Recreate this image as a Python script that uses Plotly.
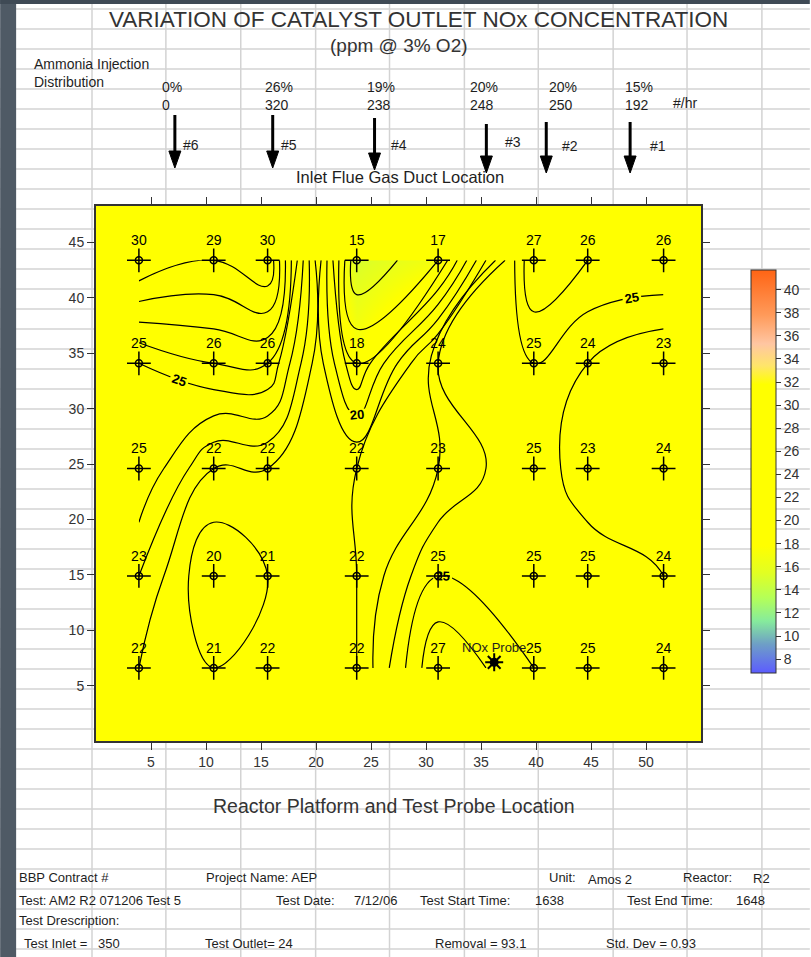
import plotly.graph_objects as go

# ---------------- survey data ----------------
# traverse grid positions (ft) across the reactor platform
grid_x = [3.9, 10.7, 15.6, 23.7, 31.1, 39.8, 44.7, 51.6]
grid_y = [6.6, 14.9, 24.6, 34.1, 43.4]

# catalyst outlet NOx, ppm @ 3% O2 (rows follow grid_y, bottom to top)
nox_ppm = [
    [22, 21, 22, 22, 27, 25, 25, 24],
    [23, 20, 21, 22, 25, 25, 25, 24],
    [25, 22, 22, 22, 23, 25, 23, 24],
    [25, 26, 26, 18, 24, 25, 24, 23],
    [30, 29, 30, 15, 17, 27, 26, 26],
]

# fixed NOx analyser probe
probe_x = [36.2]
probe_y = [7.1]
probe_name = ["NOx Probe"]

# ammonia injection lances
lance_names = ["#6", "#5", "#4", "#3", "#2", "#1"]
lance_pct = ["0%", "26%", "19%", "20%", "20%", "15%"]
lance_rate = ["0", "320", "238", "248", "250", "192"]

x_tick_vals = [5, 10, 15, 20, 25, 30, 35, 40, 45, 50]
y_tick_vals = [5, 10, 15, 20, 25, 30, 35, 40, 45]
cbar_tick_vals = list(range(8, 41, 2))

# colour ramp (ppm -> colour)
cbar_stops = [
    (6.8, "#5c5cff"), (9.3, "#6e9fc6"), (11.3, "#86eb9c"), (13.3, "#b4ff58"),
    (15.5, "#e2ff22"), (17.8, "#ffff00"), (31.8, "#ffff00"), (33.4, "#ffe56a"),
    (35.3, "#ffc6a2"), (37.8, "#ff9a5a"), (41.7, "#ff6414"),
]
Z_MIN, Z_MAX = 6.8, 41.7

# ---------------- page geometry (pixels) ----------------
W, H = 811, 957
L, T, PW, PH = 96, 206, 606, 535
FONT = "Liberation Sans, Arial, sans-serif"
INK = "#1e1e1e"


def px(x):
    return (x - L) / PW


def py(y):
    return (T + PH - y) / PH


colorscale = [[(v - Z_MIN) / (Z_MAX - Z_MIN), c] for v, c in cbar_stops]

fig = go.Figure()

# colour-shaded surface
fig.add_trace(go.Contour(
    x=grid_x, y=grid_y, z=nox_ppm,
    colorscale=colorscale, zmin=Z_MIN, zmax=Z_MAX, hoverinfo="skip",
    contours=dict(coloring="heatmap", start=14, end=30, size=1),
    line=dict(width=0),
    colorbar=dict(
        x=px(751), xanchor="left", xpad=0,
        y=py(270), yanchor="top", ypad=0,
        lenmode="pixels", len=403, thicknessmode="pixels", thickness=25,
        outlinecolor="#333333", outlinewidth=1,
        tickmode="array", tickvals=cbar_tick_vals,
        ticks="outside", ticklen=5, tickcolor="#333333",
        tickfont=dict(family=FONT, size=14, color="#333333"),
    ),
))

# contour lines, 1 ppm apart; 20 and 25 carry labels
for start, end, size, labels in [(14, 19, 1, False), (21, 24, 1, False),
                                  (26, 30, 1, False), (20, 25, 5, True)]:
    fig.add_trace(go.Contour(
        x=grid_x, y=grid_y, z=nox_ppm, showscale=False, hoverinfo="skip",
        contours=dict(start=start, end=end, size=size, coloring="none",
                      showlabels=labels,
                      labelfont=dict(family=FONT, size=13, color="black", weight="bold")),
        line=dict(color="black", width=1.2, smoothing=1.3),
    ))

# measurement points with their readings
pts_x, pts_y, pts_t = [], [], []
for j, yv in enumerate(grid_y):
    for i, xv in enumerate(grid_x):
        pts_x.append(xv)
        pts_y.append(yv)
        pts_t.append(str(nox_ppm[j][i]))

fig.add_trace(go.Scatter(
    x=pts_x, y=pts_y, text=pts_t, mode="markers+text", textposition="top center",
    textfont=dict(family=FONT, size=14, color="black"),
    marker=dict(symbol="cross-thin-open", size=17, color="black",
                line=dict(color="black", width=1.5)),
    hoverinfo="skip", showlegend=False,
))
fig.add_trace(go.Scatter(
    x=pts_x, y=pts_y, mode="markers",
    marker=dict(symbol="circle-open", size=7, color="black",
                line=dict(color="black", width=1.5)),
    hoverinfo="skip", showlegend=False,
))

# NOx probe
fig.add_trace(go.Scatter(
    x=probe_x, y=probe_y, mode="markers",
    marker=dict(symbol="asterisk-open", size=15, color="black",
                line=dict(color="black", width=2)),
    hoverinfo="skip", showlegend=False,
))
fig.add_trace(go.Scatter(
    x=probe_x, y=probe_y, text=probe_name, mode="markers+text",
    textposition="top center", textfont=dict(family=FONT, size=13, color=INK),
    marker=dict(symbol="circle", size=9, color="black"),
    hoverinfo="skip", showlegend=False,
))

# ---------------- worksheet background ----------------
shapes = []
for gx in [92, 166, 241, 316, 390, 465, 539, 614, 688, 763]:
    shapes.append(dict(type="line", xref="paper", yref="paper", layer="below",
                       x0=px(gx), x1=px(gx), y0=py(0), y1=py(H),
                       line=dict(color="#d3d3d3", width=1.5)))
for gy in range(9, H, 20):
    shapes.append(dict(type="line", xref="paper", yref="paper", layer="below",
                       x0=px(0), x1=px(W), y0=py(gy), y1=py(gy),
                       line=dict(color="#d3d3d3", width=1.5)))
# plot area fill
shapes.append(dict(type="rect", xref="paper", yref="paper", layer="below",
                   x0=0, x1=1, y0=0, y1=1, fillcolor="#ffff00", line=dict(width=0)))
# window frame
shapes.append(dict(type="rect", xref="paper", yref="paper", layer="above",
                   x0=px(0), x1=px(16), y0=py(H), y1=py(0),
                   fillcolor="#4f5a65", line=dict(width=0)))
shapes.append(dict(type="rect", xref="paper", yref="paper", layer="above",
                   x0=px(0), x1=px(W), y0=py(4), y1=py(0),
                   fillcolor="#3f4a55", line=dict(width=0)))

# injection arrows
arrow_x = [175, 273, 375, 487, 547, 631]
arrow_top = [115, 115, 118, 124, 122, 122]
arrow_tip = [168, 168, 170, 173, 173, 173]
for ax_, a0, a1 in zip(arrow_x, arrow_top, arrow_tip):
    shapes.append(dict(type="line", xref="paper", yref="paper",
                       x0=px(ax_), x1=px(ax_), y0=py(a0), y1=py(a1 - 12),
                       line=dict(color="black", width=3)))
    shapes.append(dict(type="path", xref="paper", yref="paper",
                       path=(f"M{px(ax_ - 6)},{py(a1 - 17)} L{px(ax_ + 6)},{py(a1 - 17)} "
                             f"L{px(ax_)},{py(a1)} Z"),
                       fillcolor="black", line=dict(color="black", width=1)))

# ---------------- text ----------------
annotations = []


def note(text, x, y, size, anchor="left", color=INK):
    annotations.append(dict(text=text, x=px(x), y=py(y), xref="paper", yref="paper",
                            xanchor=anchor, yanchor="middle", showarrow=False,
                            font=dict(family=FONT, size=size, color=color)))


note("VARIATION OF CATALYST OUTLET NOx CONCENTRATION", 419, 19, 22.5, "center", "#333333")
note("(ppm @ 3% O2)", 400, 46, 19, "center", "#333333")
note("Ammonia Injection", 32, 64, 14)
note("Distribution", 32, 82, 14)

text_x = [160, 263, 365, 469, 548, 624]
for tx, pct, rate in zip(text_x, lance_pct, lance_rate):
    note(pct, tx, 87, 14)
    note(rate, tx, 105, 14)
note("#/hr", 672, 103, 14)

lance_lx = [181, 279, 389, 504, 561, 649]
lance_ly = [145, 145, 145, 142, 146, 146]
for name, lx, ly in zip(lance_names, lance_lx, lance_ly):
    note(name, lx, ly, 14)

note("Inlet Flue Gas Duct Location", 401, 177, 16.5, "center")
note("Reactor Platform and Test Probe Location", 394, 806, 19.5, "center", "#333333")

footer = [
    ("BBP Contract #", 17, 877), ("Project Name: AEP", 204, 877), ("Unit:", 548, 877),
    ("Amos 2", 587, 879), ("Reactor:", 682, 877), ("R2", 752, 878),
    ("Test:", 17, 900), ("AM2 R2 071206 Test 5", 47, 900), ("Test Date:", 274, 900),
    ("7/12/06", 352, 900), ("Test Start Time:", 419, 900), ("1638", 534, 900),
    ("Test End Time:", 626, 900), ("1648", 735, 900),
    ("Test Drescription:", 17, 920),
    ("Test Inlet =", 22, 943), ("350", 96, 943), ("Test Outlet= 24", 203, 943),
    ("Removal = 93.1", 434, 943), ("Std. Dev = 0.93", 605, 943),
]
for t, fx, fy in footer:
    note(t, fx, fy, 13)

axis_common = dict(
    showgrid=False, zeroline=False, showline=True, linecolor="#333333", linewidth=2,
    mirror="ticks", ticks="outside", ticklen=7, tickwidth=1, tickcolor="#333333",
    tickfont=dict(family=FONT, size=14, color="#333333"), tickmode="array",
)

fig.update_layout(
    width=W, height=H, autosize=False,
    margin=dict(l=L, r=W - L - PW, t=T, b=H - T - PH, pad=0),
    paper_bgcolor="white", plot_bgcolor="#ffff00",
    showlegend=False,
    xaxis=dict(range=[0, 55], tickvals=x_tick_vals, **axis_common),
    yaxis=dict(range=[0, 48.3], tickvals=y_tick_vals, **axis_common),
    shapes=shapes, annotations=annotations,
    font=dict(family=FONT, color=INK),
)

fig.write_html("out.html")
